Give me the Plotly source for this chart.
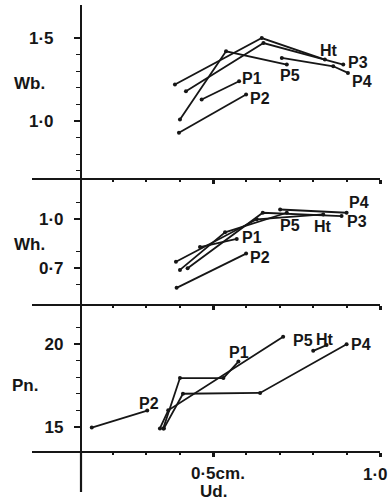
import plotly.graph_objects as go

# ---------------- data ----------------
SERIES = ["Ht", "P3", "P4", "P5", "P1", "P2"]

# Top panel: Wb. against Ud. (cm)
wb_x = {
    "Ht": [0.386, 0.646, 0.835],
    "P3": [0.419, 0.651, 0.890],
    "P4": [0.706, 0.860, 0.904],
    "P5": [0.401, 0.539, 0.721],
    "P1": [0.466, 0.578],
    "P2": [0.398, 0.599],
}
wb_y = {
    "Ht": [1.22, 1.50, 1.37],
    "P3": [1.18, 1.47, 1.34],
    "P4": [1.38, 1.33, 1.29],
    "P5": [1.01, 1.42, 1.34],
    "P1": [1.13, 1.24],
    "P2": [0.93, 1.16],
}

# Middle panel: Wh.
wh_x = {
    "Ht": [0.389, 0.631, 0.830],
    "P3": [0.424, 0.649, 0.885],
    "P4": [0.701, 0.900],
    "P5": [0.401, 0.536, 0.721],
    "P1": [0.461, 0.571],
    "P2": [0.391, 0.599],
}
wh_y = {
    "Ht": [0.74, 1.00, 1.03],
    "P3": [0.70, 1.04, 1.02],
    "P4": [1.06, 1.04],
    "P5": [0.69, 0.92, 1.04],
    "P1": [0.83, 0.88],
    "P2": [0.58, 0.79],
}

# Bottom panel: Pn.
pn_x = {
    "Ht": [0.800, 0.840],
    "P4": [0.353, 0.410, 0.641, 0.900],
    "P5": [0.341, 0.366, 0.710],
    "P1": [0.351, 0.401, 0.531, 0.576],
    "P2": [0.137, 0.303],
}
pn_y = {
    "Ht": [19.6, 19.95],
    "P4": [14.9, 17.0, 17.05, 20.0],
    "P5": [14.9, 16.0, 20.45],
    "P1": [14.9, 17.95, 17.95, 18.95],
    "P2": [14.95, 15.98],
}

# axis ticks
x_major = [0.5, 1.0]
x_major_text = ["0·5cm.", "1·0"]
x_minor = [0.2, 0.3, 0.4, 0.6, 0.7, 0.8, 0.9]
wb_major = [1.0, 1.5]
wb_major_text = ["1·0", "1·5"]
wb_minor = [0.7, 0.8, 0.9, 1.1, 1.2, 1.3, 1.4]
wh_major = [0.7, 1.0]
wh_major_text = ["0·7", "1·0"]
wh_minor = [0.6, 0.8, 1.1]
pn_major = [15, 20]
pn_major_text = ["15", "20"]
pn_minor = [16, 17, 18, 19, 21]

# ---------------- styling ----------------
INK = "#161616"
FONT = "Liberation Sans"
W, H = 390, 502
ML, MR, MT, MB = 32, 10, 5, 10
PW, PH = W - ML - MR, H - MT - MB
XR = [-0.042, 1.0]
AXIS_X_PAPER = (81 - ML) / PW

def py2paper(py):
    return (H - MB - py) / PH

D_TOP = [py2paper(178), 1.0]
D_MID = [py2paper(304), py2paper(178)]
D_BOT = [py2paper(451), py2paper(304)]

# label placement per panel: series -> (xanchor, xshift, yshift)
wb_lab = {"Ht": ("center", 4, 9), "P3": ("left", 3, 2), "P4": ("left", 2, -9),
          "P5": ("center", 3, -11), "P1": ("left", 1, 3), "P2": ("left", 2, -4)}
wh_lab = {"Ht": ("center", 0, -12), "P3": ("left", 3, -5), "P4": ("left", 0, 10),
          "P5": ("center", 3, -13), "P1": ("left", 3, 1), "P2": ("left", 2, -4)}
pn_lab = {"Ht": ("center", -2, 6), "P4": ("left", 2, 0), "P5": ("left", 8, -4),
          "P1": ("center", 1, 9), "P2": ("center", 2, 7)}

fig = go.Figure()
annotations = []

def add_panel(xs, ys, labs, xa, ya):
    for name in SERIES:
        if name not in xs:
            continue
        fig.add_trace(go.Scatter(
            x=xs[name], y=ys[name], mode="lines+markers", name=name,
            xaxis=xa, yaxis=ya, showlegend=False,
            line=dict(color=INK, width=1.8),
            marker=dict(color=INK, size=4),
        ))
        anc, dx, dy = labs[name]
        annotations.append(dict(
            x=xs[name][-1], y=ys[name][-1], xref=xa, yref=ya, text=name,
            showarrow=False, xanchor=anc, yanchor="middle",
            xshift=dx, yshift=dy,
            font=dict(family=FONT, size=16, color=INK, weight=600),
        ))

add_panel(wb_x, wb_y, wb_lab, "x3", "y")
add_panel(wh_x, wh_y, wh_lab, "x2", "y2")
add_panel(pn_x, pn_y, pn_lab, "x", "y3")

xcommon = dict(
    range=XR, showline=True, linecolor=INK, linewidth=2, showgrid=False,
    zeroline=False, tickmode="array", tickvals=x_major, ticks="outside",
    ticklen=4, tickwidth=2.5, tickcolor=INK, showticklabels=False,
    minor=dict(tickmode="array", tickvals=x_minor, ticks="outside",
               ticklen=2, tickwidth=1.5, tickcolor=INK),
)

def yaxis(dom, rng, major, major_text, minor, standoff):
    return dict(
        domain=dom, range=rng, anchor="free", position=AXIS_X_PAPER,
        showline=True, linecolor=INK, linewidth=2.2, showgrid=False,
        zeroline=False, tickmode="array", tickvals=major, ticktext=major_text,
        ticks="outside", ticklen=6, tickwidth=1.6, tickcolor=INK,
        ticklabelstandoff=standoff,
        tickfont=dict(family=FONT, size=17, color=INK, weight=600),
        minor=dict(tickmode="array", tickvals=minor, ticks="outside",
                   ticklen=3.5, tickwidth=1.4, tickcolor=INK),
    )

# axis titles and x tick labels as text
title_font = dict(family=FONT, size=17, color=INK, weight=600)
annotations += [
    dict(x=(12 - ML) / PW, xref="paper", y=1.229, yref="y", text="Wb.",
         showarrow=False, xanchor="left", yanchor="middle", font=title_font),
    dict(x=(12 - ML) / PW, xref="paper", y=0.843, yref="y2", text="Wh.",
         showarrow=False, xanchor="left", yanchor="middle", font=title_font),
    dict(x=(10 - ML) / PW, xref="paper", y=17.53, yref="y3", text="Pn.",
         showarrow=False, xanchor="left", yanchor="middle", font=title_font),
    dict(x=x_major[0], xref="x", y=py2paper(473), yref="paper",
         text=x_major_text[0], showarrow=False, xanchor="center",
         yanchor="middle", xshift=4.5, font=title_font),
    dict(x=x_major[1], xref="x", y=py2paper(474), yref="paper",
         text=x_major_text[1], showarrow=False, xanchor="center",
         yanchor="middle", xshift=-5, font=title_font),
    dict(x=x_major[0], xref="x", y=py2paper(491), yref="paper",
         text="Ud.", showarrow=False, xanchor="center",
         yanchor="middle", font=title_font),
]

fig.update_layout(
    width=W, height=H, margin=dict(l=ML, r=MR, t=MT, b=MB),
    paper_bgcolor="white", plot_bgcolor="white",
    xaxis=dict(anchor="y3", **xcommon),
    xaxis2=dict(anchor="y2", matches="x", **xcommon),
    xaxis3=dict(anchor="y", matches="x", **xcommon),
    yaxis=yaxis(D_TOP, [0.657, 1.699], wb_major, wb_major_text, wb_minor, 17),
    yaxis2=yaxis(D_MID, [0.481, 1.253], wh_major, wh_major_text, wh_minor, 7),
    yaxis3=yaxis(D_BOT, [13.53, 22.44], pn_major, pn_major_text, pn_minor, 7),
    annotations=annotations,
    shapes=[dict(type="line", xref="paper", yref="paper",
                 x0=AXIS_X_PAPER, x1=AXIS_X_PAPER, y0=0, y1=D_BOT[0],
                 line=dict(color=INK, width=2.2))],
)

fig.write_html(
    "out.html",
    config={"displayModeBar": False},
    post_script="document.body.style.margin='0px';",
)
